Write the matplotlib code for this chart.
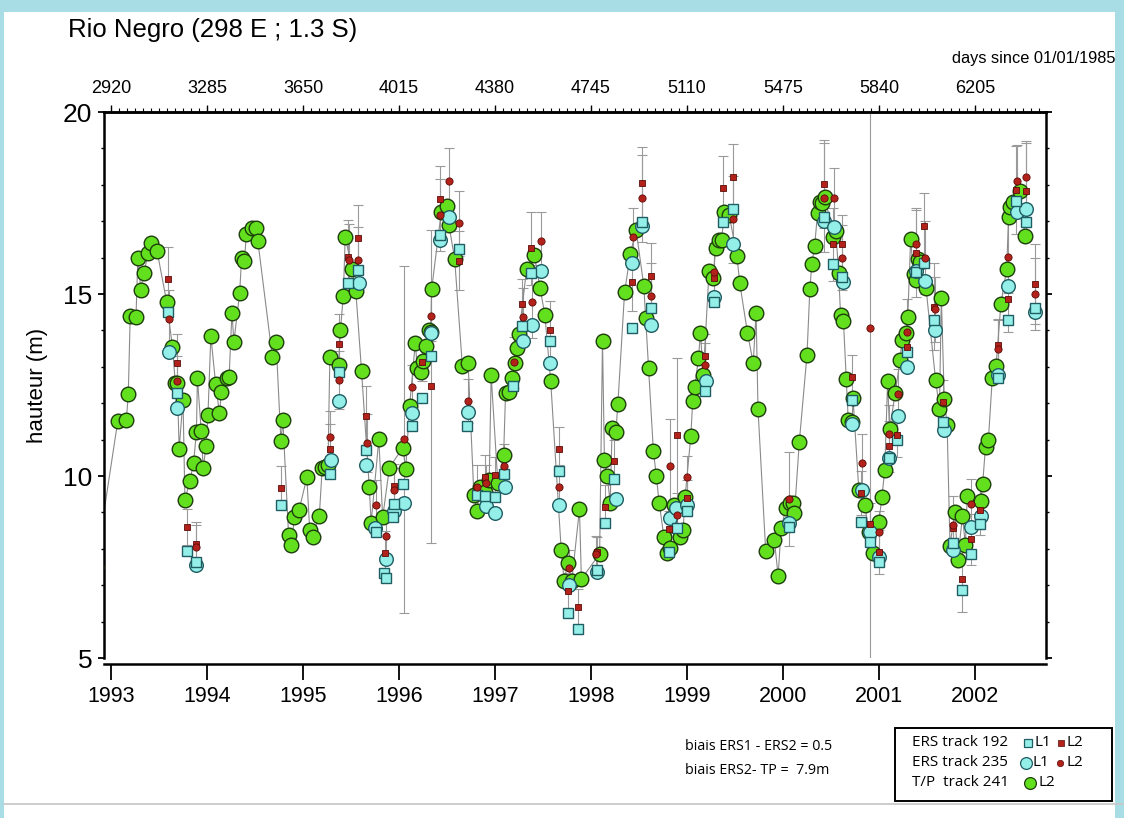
import matplotlib
matplotlib.use("Agg")
import matplotlib.pyplot as plt
from matplotlib.patches import Rectangle
from matplotlib.ticker import MultipleLocator
from matplotlib import font_manager

# ---------------- data ----------------
# T/P track 241 (L2), decimal year / height (m)
tp_year = [
    1992.84, 1993.07, 1993.16, 1993.18, 1993.20, 1993.26, 1993.28, 1993.31, 1993.34, 1993.39,
    1993.42, 1993.48, 1993.58, 1993.64, 1993.67, 1993.69, 1993.71, 1993.75, 1993.77, 1993.82,
    1993.86, 1993.89, 1993.90, 1993.94, 1993.96, 1993.99, 1994.01, 1994.04, 1994.09, 1994.13,
    1994.15, 1994.21, 1994.23, 1994.26, 1994.28, 1994.34, 1994.36, 1994.39, 1994.41, 1994.47,
    1994.51, 1994.53, 1994.68, 1994.72, 1994.77, 1994.79, 1994.85, 1994.88, 1994.91, 1994.96,
    1995.04, 1995.07, 1995.10, 1995.17, 1995.20, 1995.23, 1995.26, 1995.28, 1995.37, 1995.39,
    1995.42, 1995.44, 1995.51, 1995.55, 1995.61, 1995.69, 1995.71, 1995.79, 1995.83, 1995.90,
    1996.04, 1996.07, 1996.11, 1996.17, 1996.19, 1996.23, 1996.25, 1996.28, 1996.31, 1996.33,
    1996.34, 1996.44, 1996.50, 1996.52, 1996.58, 1996.66, 1996.72, 1996.78, 1996.81, 1996.84,
    1996.90, 1996.94, 1996.96, 1997.03, 1997.09, 1997.11, 1997.15, 1997.18, 1997.21, 1997.23,
    1997.25, 1997.33, 1997.41, 1997.47, 1997.52, 1997.58, 1997.69, 1997.72, 1997.76, 1997.80,
    1997.88, 1997.90, 1998.09, 1998.12, 1998.14, 1998.17, 1998.20, 1998.22, 1998.26, 1998.28,
    1998.35, 1998.41, 1998.47, 1998.55, 1998.57, 1998.60, 1998.65, 1998.68, 1998.71, 1998.76,
    1998.79, 1998.82, 1998.87, 1998.93, 1998.96, 1998.98, 1999.04, 1999.06, 1999.08, 1999.12,
    1999.14, 1999.17, 1999.23, 1999.27, 1999.30, 1999.33, 1999.36, 1999.39, 1999.44, 1999.52,
    1999.55, 1999.63, 1999.69, 1999.72, 1999.74, 1999.82, 1999.91, 1999.95, 1999.98, 2000.03,
    2000.07, 2000.10, 2000.12, 2000.17, 2000.25, 2000.28, 2000.30, 2000.33, 2000.36, 2000.39,
    2000.41, 2000.44, 2000.52, 2000.55, 2000.58, 2000.60, 2000.63, 2000.66, 2000.68, 2000.72,
    2000.73, 2000.79, 2000.85, 2000.90, 2000.94, 2001.00, 2001.03, 2001.06, 2001.09, 2001.11,
    2001.17, 2001.22, 2001.24, 2001.28, 2001.30, 2001.33, 2001.36, 2001.39, 2001.41, 2001.43,
    2001.49, 2001.59, 2001.63, 2001.65, 2001.68, 2001.71, 2001.74, 2001.79, 2001.82, 2001.87,
    2001.90, 2001.92, 2002.06, 2002.08, 2002.11, 2002.14, 2002.18, 2002.22, 2002.27, 2002.33,
    2002.35, 2002.37, 2002.40, 2002.47, 2002.52]
tp_h = [
    7.5, 11.5, 11.55, 12.25, 14.4, 14.37, 16.0, 15.12, 15.57, 16.13,
    16.4, 16.18, 14.78, 13.55, 12.55, 12.55, 10.75, 12.1, 9.34, 9.86,
    10.35, 11.22, 12.68, 11.24, 10.21, 10.82, 11.68, 13.85, 12.53, 11.72,
    12.3, 12.68, 12.71, 14.49, 13.69, 15.02, 15.98, 15.91, 16.64, 16.8,
    16.82, 16.45, 13.28, 13.67, 10.96, 11.54, 8.38, 8.1, 8.87, 9.07,
    9.96, 8.52, 8.33, 8.91, 10.21, 10.24, 10.3, 13.28, 13.05, 14.01,
    14.95, 16.57, 15.7, 15.09, 12.88, 9.71, 8.72, 11.01, 8.86, 10.23,
    10.78, 10.19, 11.92, 13.66, 12.96, 12.87, 13.16, 13.58, 14.01, 13.95,
    15.13, 17.24, 17.42, 16.9, 15.96, 13.03, 13.1, 9.48, 9.04, 9.69,
    9.57, 9.89, 12.77, 9.8, 10.58, 12.27, 12.3, 12.69, 13.1, 13.51,
    13.9, 15.7, 16.07, 15.16, 14.42, 12.62, 7.96, 7.12, 7.62, 7.12,
    9.09, 7.17, 7.86, 13.72, 10.44, 10.01, 9.25, 11.33, 11.22, 11.98,
    15.05, 16.1, 16.76, 15.23, 14.33, 12.98, 10.69, 10.01, 9.27, 8.32,
    7.89, 8.01, 9.2, 8.33, 8.52, 9.41, 11.1, 12.07, 12.44, 13.23,
    13.94, 12.77, 15.63, 15.43, 16.27, 16.48, 16.48, 17.24, 17.17, 16.05,
    15.29, 13.94, 13.1, 14.49, 11.83, 7.94, 8.24, 7.25, 8.56, 9.11,
    9.27, 9.25, 8.98, 10.93, 13.32, 15.13, 15.82, 16.32, 17.22, 17.54,
    17.49, 17.67, 16.56, 16.73, 15.57, 14.42, 14.26, 12.66, 11.54, 11.49,
    12.13, 9.62, 9.19, 8.47, 7.88, 8.75, 9.41, 10.16, 12.6, 11.28,
    12.29, 13.19, 13.74, 13.92, 14.38, 16.5, 15.55, 15.38, 15.95, 15.89,
    15.16, 12.64, 11.84, 14.9, 12.12, 11.4, 8.09, 9.0, 7.69, 8.9,
    8.1, 9.46, 9.3, 9.78, 10.81, 10.99, 12.68, 13.03, 14.73, 15.68,
    17.11, 17.38, 17.54, 17.84, 16.59]

# ERS track 192, L1 (squares)
sq1_year = [
    1993.59, 1993.69, 1993.79, 1993.89, 1994.77, 1995.28, 1995.38, 1995.47, 1995.57, 1995.66,
    1995.76, 1995.84, 1995.86, 1995.94, 1995.95, 1996.04, 1996.14, 1996.24, 1996.33, 1996.43,
    1996.62, 1996.71, 1996.81, 1996.90, 1997.00, 1997.09, 1997.19, 1997.28, 1997.38, 1997.57,
    1997.67, 1997.76, 1997.86, 1998.06, 1998.15, 1998.24, 1998.43, 1998.53, 1998.62, 1998.81,
    1998.90, 1999.00, 1999.19, 1999.28, 1999.38, 1999.48, 2000.06, 2000.43, 2000.52, 2000.62,
    2000.72, 2000.81, 2000.91, 2001.00, 2001.10, 2001.19, 2001.29, 2001.39, 2001.47, 2001.57,
    2001.67, 2001.77, 2001.86, 2001.96, 2002.05, 2002.24, 2002.34, 2002.43, 2002.53, 2002.63]
sq1_h = [
    14.5, 12.28, 7.94, 7.65, 9.2, 10.05, 12.87, 15.29, 15.66, 10.71,
    8.47, 7.34, 7.19, 8.88, 9.23, 9.78, 11.36, 12.13, 13.31, 16.62,
    16.24, 11.38, 9.48, 9.45, 9.41, 10.05, 12.48, 14.13, 15.58, 13.71,
    10.14, 6.23, 5.81, 7.42, 8.7, 9.91, 14.06, 16.97, 14.61, 7.91,
    8.56, 9.04, 12.34, 14.77, 16.99, 17.33, 8.61, 17.12, 15.82, 15.48,
    12.1, 8.73, 8.18, 7.65, 10.49, 10.99, 13.41, 15.6, 15.84, 14.29,
    11.47, 8.15, 6.87, 7.85, 8.68, 12.7, 14.29, 17.56, 16.97, 14.61]

# ERS track 192, L2 (small squares)
sq2_year = [
    1993.59, 1993.69, 1993.79, 1993.89, 1994.77, 1995.28, 1995.38, 1995.47, 1995.57, 1995.66,
    1995.85, 1995.95, 1996.24, 1996.33, 1996.43, 1996.62, 1996.90, 1997.00, 1997.28, 1997.38,
    1997.57, 1997.67, 1997.76, 1997.86, 1998.06, 1998.15, 1998.24, 1998.43, 1998.53, 1998.62,
    1998.81, 1998.90, 1999.00, 1999.19, 1999.28, 1999.38, 1999.48, 2000.43, 2000.52, 2000.62,
    2000.72, 2000.81, 2000.91, 2001.00, 2001.10, 2001.19, 2001.29, 2001.39, 2001.47, 2001.57,
    2001.67, 2001.77, 2001.86, 2001.96, 2002.05, 2002.24, 2002.34, 2002.43, 2002.53, 2002.63]
sq2_h = [
    15.4, 13.1, 8.6, 8.14, 9.68, 10.73, 13.64, 16.03, 16.55, 11.66,
    7.88, 9.73, 13.12, 12.47, 17.62, 15.92, 9.98, 10.03, 14.72, 16.26,
    14.01, 10.74, 6.84, 6.4, 7.92, 9.16, 10.4, 15.34, 18.04, 15.5,
    8.54, 11.13, 9.39, 13.31, 15.43, 17.9, 18.21, 18.02, 16.37, 16.37,
    12.73, 9.53, 8.67, 7.92, 10.82, 11.13, 13.55, 16.12, 16.88, 14.65,
    12.03, 8.56, 7.16, 8.26, 9.07, 13.6, 14.86, 17.86, 17.84, 15.27]
sq2_err = [
    0.9, 0.8, 0.5, 0.6, 0.6, 0.7, 0.8, 1.0, 0.9, 0.8,
    0.6, 0.6, 0.5, 4.3, 0.9, 0.8, 0.6, 0.5, 0.7, 1.0,
    0.8, 0.6, 0.5, 0.5, 0.4, 0.6, 0.6, 0.8, 1.0, 0.9,
    0.5, 2.1, 0.5, 0.6, 0.7, 0.9, 0.9, 1.2, 1.0, 0.8,
    0.6, 0.6, 0.6, 0.6, 0.7, 0.6, 0.7, 1.2, 0.9, 1.2,
    0.6, 0.6, 0.9, 0.7, 0.7, 0.7, 0.9, 1.2, 1.3, 1.1]

# ERS track 235, L1 (circles)
ci1_year = [
    1993.60, 1993.69, 1993.89, 1995.29, 1995.38, 1995.58, 1995.66, 1995.75, 1995.86, 1995.95,
    1996.05, 1996.14, 1996.33, 1996.43, 1996.52, 1996.72, 1996.91, 1997.00, 1997.10, 1997.29,
    1997.39, 1997.48, 1997.57, 1997.67, 1997.77, 1998.06, 1998.26, 1998.43, 1998.53, 1998.63,
    1998.82, 1998.89, 1999.00, 1999.20, 1999.28, 1999.48, 2000.06, 2000.43, 2000.53, 2000.63,
    2000.72, 2000.82, 2000.91, 2001.00, 2001.10, 2001.20, 2001.29, 2001.39, 2001.48, 2001.58,
    2001.68, 2001.77, 2001.96, 2002.06, 2002.24, 2002.34, 2002.44, 2002.53, 2002.63]
ci1_h = [
    13.4, 11.86, 7.56, 10.44, 12.06, 15.29, 10.3, 8.56, 7.71, 9.04,
    9.25, 11.72, 13.94, 16.48, 17.11, 11.75, 9.18, 8.98, 9.69, 13.71,
    14.15, 15.64, 13.11, 9.2, 7.0, 7.35, 9.37, 15.84, 16.88, 14.15,
    8.84, 9.13, 9.19, 12.62, 14.93, 16.37, 8.72, 17.01, 16.85, 15.34,
    11.42, 9.62, 8.45, 7.78, 10.49, 11.66, 13.0, 15.63, 15.36, 14.01,
    11.26, 7.97, 8.59, 8.91, 12.77, 15.23, 17.24, 17.33, 14.5]

# ERS track 235, L2 (small circles)
ci2_year = [
    1993.60, 1993.69, 1993.89, 1995.28, 1995.38, 1995.48, 1995.57, 1995.67, 1995.76, 1995.86,
    1995.95, 1996.05, 1996.14, 1996.33, 1996.43, 1996.52, 1996.62, 1996.72, 1996.81, 1996.91,
    1997.09, 1997.20, 1997.29, 1997.39, 1997.48, 1997.67, 1997.77, 1998.05, 1998.44, 1998.53,
    1998.63, 1998.82, 1998.90, 1999.00, 1999.19, 1999.28, 1999.48, 2000.06, 2000.43, 2000.53,
    2000.62, 2000.82, 2000.91, 2001.00, 2001.10, 2001.20, 2001.29, 2001.39, 2001.48, 2001.58,
    2001.77, 2001.96, 2002.24, 2002.34, 2002.44, 2002.53, 2002.63]
ci2_h = [
    14.3, 12.6, 8.06, 11.08, 12.64, 15.93, 15.93, 10.9, 9.2, 8.36,
    9.62, 11.01, 12.44, 14.4, 17.17, 18.1, 16.94, 12.06, 9.7, 9.8,
    10.27, 13.12, 14.36, 14.79, 16.46, 9.71, 7.47, 7.85, 16.56, 17.63,
    14.95, 10.27, 8.93, 9.96, 13.05, 15.6, 17.05, 9.37, 17.65, 17.65,
    16.0, 10.35, 14.06, 8.45, 11.15, 12.25, 13.96, 16.37, 16.0, 14.58,
    8.65, 9.23, 13.48, 16.03, 18.1, 18.21, 15.0]
ci2_err = [
    0.8, 0.7, 0.6, 0.7, 0.8, 1.0, 0.9, 0.8, 0.7, 0.6,
    0.6, 4.76, 0.6, 0.7, 1.0, 0.9, 0.9, 0.6, 0.6, 0.5,
    0.6, 0.7, 0.8, 1.0, 0.8, 0.6, 0.5, 0.5, 0.8, 1.2,
    0.9, 1.3, 0.6, 0.6, 0.6, 0.8, 1.2, 1.3, 1.5, 0.8,
    0.9, 0.8, 12.0, 0.6, 0.8, 0.7, 0.9, 1.0, 1.0, 0.9,
    0.8, 0.7, 0.8, 1.0, 1.0, 1.0, 1.0]

year_ticks = [1993, 1994, 1995, 1996, 1997, 1998, 1999, 2000, 2001, 2002]
year_labels = ["1993", "1994", "1995", "1996", "1997", "1998", "1999", "2000", "2001", "2002"]
day_ticks = [2920, 3285, 3650, 4015, 4380, 4745, 5110, 5475, 5840, 6205]
y_ticks = [5, 10, 15, 20]

# ---------------- fonts ----------------
avail = {f.name for f in font_manager.fontManager.ttflist}
NARROW = "Liberation Sans Narrow" if "Liberation Sans Narrow" in avail else "Liberation Sans"
SANS = "Liberation Sans"
MYRIAD = "Open Sans"

W, H = 1124, 818
fig = plt.figure(figsize=(W / 100, H / 100), dpi=100)
fig.patch.set_facecolor("#a9dde6")

bg = fig.add_axes([0, 0, 1, 1], zorder=0)
bg.set_xlim(0, W)
bg.set_ylim(H, 0)
bg.axis("off")
bg.add_patch(Rectangle((4, 12), 1111, 806, facecolor="white", edgecolor="none"))
bg.plot([4, 1124], [804, 804], color="#c9c9c9", lw=1.3)

# ---------------- main axes ----------------
ax = fig.add_axes([104 / W, 1 - 658 / H, 942 / W, 546 / H], zorder=2)
ax.set_xlim(1992.927, 2002.74)
ax.set_ylim(5, 20)

ecol = "#9a9a9a"
ax.errorbar(sq2_year, sq2_h, yerr=sq2_err, fmt="none", ecolor=ecol, elinewidth=0.8,
            capsize=3.5, capthick=0.8, zorder=1)
ax.errorbar(ci2_year, ci2_h, yerr=ci2_err, fmt="none", ecolor=ecol, elinewidth=0.8,
            capsize=3.5, capthick=0.8, zorder=1)

ax.plot(tp_year, tp_h, color="#8a8a8a", lw=0.8, zorder=2)
ax.plot(tp_year, tp_h, "o", ms=10.5, mfc="#62e01e", mec="#1d3e0c", mew=1.0, zorder=3,
        linestyle="none")
ax.plot(ci1_year, ci1_h, "o", ms=9.8, mfc="#93efe8", mec="#1f5d63", mew=1.0, zorder=4,
        linestyle="none")
ax.plot(sq1_year, sq1_h, "s", ms=7.2, mfc="#93efe8", mec="#1f5d63", mew=1.0, zorder=5,
        linestyle="none")
ax.plot(sq2_year, sq2_h, "s", ms=4.2, mfc="#b3221a", mec="#5a0c08", mew=0.6, zorder=6,
        linestyle="none")
ax.plot(ci2_year, ci2_h, "o", ms=5.2, mfc="#b3221a", mec="#5a0c08", mew=0.6, zorder=6,
        linestyle="none")

for s in ["left", "right", "top", "bottom"]:
    ax.spines[s].set_linewidth(1.8)
ax.spines["bottom"].set_position(("outward", 4.5))

ax.set_xticks(year_ticks)
ax.set_xticklabels(year_labels, fontsize=15.5, fontfamily=NARROW)
ax.tick_params(axis="x", which="major", direction="out", length=11.5, width=1.3,
               top=False, bottom=True, pad=4)
ax.tick_params(axis="x", which="minor", bottom=False, top=False)

ax.set_yticks(y_ticks)
ax.set_yticklabels([str(v) for v in y_ticks], fontsize=19, fontfamily=SANS)
ax.yaxis.set_minor_locator(MultipleLocator(1))
ax.tick_params(axis="y", which="major", direction="out", length=4.5, width=1.3,
               left=True, right=True, labelright=False, pad=4)
ax.tick_params(axis="y", which="minor", direction="out", length=2.5, width=1.0,
               left=True, right=True)

sec = ax.secondary_xaxis("top", functions=(lambda y: 2920 + (y - 1993) * 365.0,
                                           lambda d: 1993 + (d - 2920) / 365.0))
sec.set_xticks(day_ticks)
sec.set_xticklabels([str(d) for d in day_ticks], fontsize=13, fontfamily=NARROW)
sec.xaxis.set_minor_locator(MultipleLocator(365.0 / 12))
sec.tick_params(axis="x", which="major", direction="out", length=5, width=1.0, pad=6)
sec.tick_params(axis="x", which="minor", direction="out", length=3, width=0.8)
sec.spines["top"].set_linewidth(1.8)

ax.set_ylabel("hauteur (m)", fontsize=16, fontfamily=SANS, labelpad=11)

# ---------------- annotations ----------------
bg.text(68, 30, "Rio Negro (298 E ; 1.3 S)", fontsize=18.5, fontfamily=SANS,
        ha="left", va="center")
bg.text(1115, 58, "days since 01/01/1985", fontsize=11.8, fontfamily=NARROW,
        ha="right", va="center")
bg.text(685, 746, "biais ERS1 - ERS2 = 0.5", fontsize=10.3, fontfamily=MYRIAD,
        ha="left", va="center")
bg.text(685, 771, "biais ERS2- TP =  7.9m", fontsize=10.3, fontfamily=MYRIAD,
        ha="left", va="center")

# legend box
bg.add_patch(Rectangle((895, 728), 217, 73, facecolor="white", edgecolor="black", lw=1.4))
rows = [743, 763, 783]
lfs = 11
bg.text(912, rows[0], "ERS track 192", fontsize=lfs, fontfamily=MYRIAD, ha="left", va="center")
bg.text(912, rows[1], "ERS track 235", fontsize=lfs, fontfamily=MYRIAD, ha="left", va="center")
bg.text(912, rows[2], "T/P  track 241", fontsize=lfs, fontfamily=MYRIAD, ha="left", va="center")
bg.plot([1028], [rows[0]], "s", ms=6, mfc="#93efe8", mec="#1f5d63", mew=0.9)
bg.plot([1061], [rows[0]], "s", ms=3.8, mfc="#b3221a", mec="#5a0c08", mew=0.5)
bg.plot([1026], [rows[1]], "o", ms=8.5, mfc="#93efe8", mec="#1f5d63", mew=0.9)
bg.plot([1060], [rows[1]], "o", ms=4.6, mfc="#b3221a", mec="#5a0c08", mew=0.5)
bg.plot([1030], [rows[2]], "o", ms=8.5, mfc="#62e01e", mec="#1d3e0c", mew=0.9)
bg.text(1035, rows[0], "L1", fontsize=lfs, fontfamily=MYRIAD, ha="left", va="center")
bg.text(1067, rows[0], "L2", fontsize=lfs, fontfamily=MYRIAD, ha="left", va="center")
bg.text(1033, rows[1], "L1", fontsize=lfs, fontfamily=MYRIAD, ha="left", va="center")
bg.text(1067, rows[1], "L2", fontsize=lfs, fontfamily=MYRIAD, ha="left", va="center")
bg.text(1039, rows[2], "L2", fontsize=lfs, fontfamily=MYRIAD, ha="left", va="center")

fig.savefig("out.png", dpi=100, facecolor=fig.get_facecolor())
